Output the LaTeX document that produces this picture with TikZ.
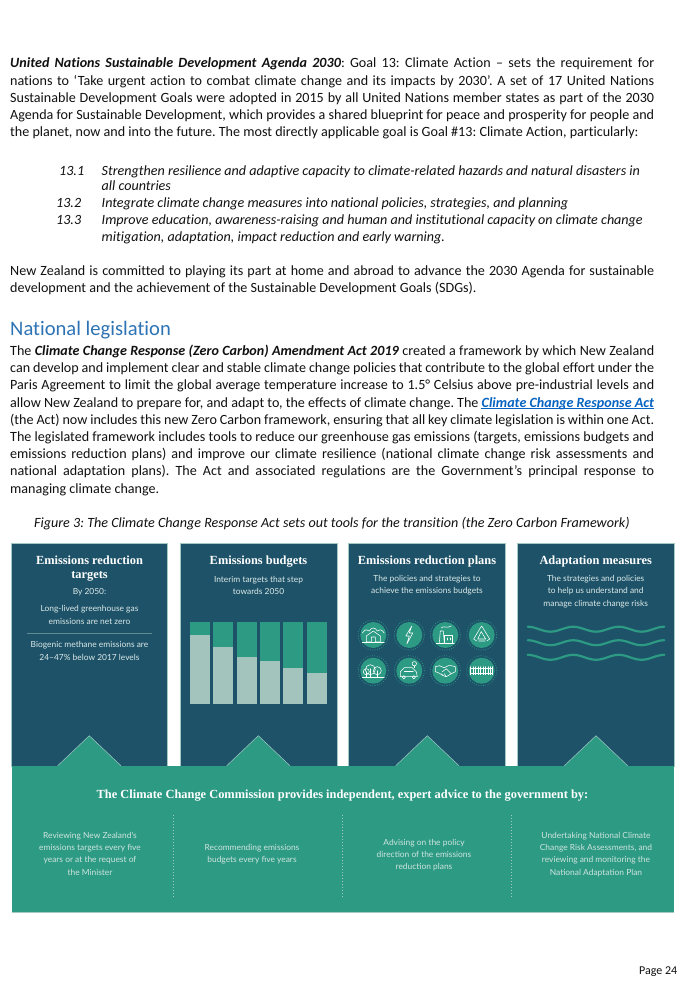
\documentclass[tikz,border=0pt]{standalone}
\usepackage{fontspec}
\setmainfont{Carlito}[Ligatures={TeX,NoCommon}]
\newfontfamily\panelsans{Lato}
\newfontfamily\panelserif{Liberation Serif}
\definecolor{panelblue}{HTML}{1D5268}
\definecolor{panelgreen}{HTML}{2D9A84}
\definecolor{edgelight}{HTML}{A2C9C4}
\definecolor{dimrule}{HTML}{5F8A94}
\definecolor{barlight}{HTML}{A2C4BD}
\definecolor{softtext}{HTML}{DCE9E8}
\definecolor{softgreen}{HTML}{CFE5DF}
\definecolor{headblue}{HTML}{2E74B5}
\definecolor{linkblue}{HTML}{0563C1}
\definecolor{bodytext}{HTML}{111111}
\tikzset{
  x=1pt,y=-1pt,
  bodyline/.style={anchor=base west,inner sep=0pt,text=bodytext,font=\fontsize{14.1}{17.2}\selectfont\frenchspacing},
  paneltitle/.style={inner sep=0pt,align=center,text=white,font=\panelserif\bfseries\fontsize{12.4}{14}\selectfont},
  paneltext/.style={inner sep=0pt,align=center,text=softtext,font=\panelsans\fontsize{8.4}{12.2}\selectfont},
  lowertext/.style={paneltext,text=softgreen},
  panelbox/.style={fill=panelblue,draw=edgelight,line width=0.5pt},
  iconline/.style={draw=white,line width=0.55pt,line join=round,line cap=round,fill=none},
  waveline/.style={draw=panelgreen,line width=2.2pt,line cap=round},
  divider/.style={draw=edgelight,line width=0.5pt,dash pattern=on 1pt off 2pt},
}
\newcommand{\jl}[3]{\node[bodyline] (#1) at (10,#2) {\hbox to 644pt{#3}};}
\newcommand{\pl}[4]{\node[bodyline] (#1) at (#2,#3) {#4};}
\newcommand{\iconbase}[2]{%
  \fill[panelgreen] (#1,#2) circle (13pt);
  \draw[panelgreen,line width=0.7pt,dash pattern=on 0.8pt off 1.6pt] (#1,#2) circle (15pt);}
\begin{document}
\begin{tikzpicture}
\useasboundingbox (0,0) rectangle (689,1004);
\fill[white] (0,0) rectangle (689,1004);
% ---------- top text
\jl{a1}{67.6}{\textbf{\textit{United Nations Sustainable Development Agenda 2030}}: Goal 13: Climate Action – sets the requirement for}
\jl{a2}{85}{nations to ‘Take urgent action to combat climate change and its impacts by 2030’. A set of 17 United Nations}
\jl{a3}{102.2}{Sustainable Development Goals were adopted in 2015 by all United Nations member states as part of the 2030}
\jl{a4}{119.4}{Agenda for Sustainable Development, which provides a shared blueprint for peace and prosperity for people and}
\pl{a5}{10}{136.6}{the planet, now and into the future. The most directly applicable goal is Goal \#13: Climate Action, particularly:}
\pl{n1}{59}{175}{\textit{13.1}}
\pl{b1}{101.5}{175}{\textit{Strengthen resilience and adaptive capacity to climate-related hazards and natural disasters in}}
\pl{b2}{101.5}{190}{\textit{all countries}}
\pl{n2}{56}{207}{\textit{13.2}}
\pl{b3}{101.5}{207}{\textit{Integrate climate change measures into national policies, strategies, and planning}}
\pl{n3}{56}{224.4}{\textit{13.3}}
\pl{b4}{101.5}{224.4}{\textit{Improve education, awareness-raising and human and institutional capacity on climate change}}
\pl{b5}{101.5}{241.6}{\textit{mitigation, adaptation, impact reduction and early warning.}}
\jl{c1}{275.6}{New Zealand is committed to playing its part at home and abroad to advance the 2030 Agenda for sustainable}
\pl{c2}{10}{292.8}{development and the achievement of the Sustainable Development Goals (SDGs).}
\node[anchor=base west,inner sep=0pt,text=headblue,font=\fontsize{20.6}{25}\selectfont] (head) at (10,335) {National legislation};
\jl{d1}{355.5}{The \textbf{\textit{Climate Change Response (Zero Carbon) Amendment Act 2019}} created a framework by which New Zealand}
\jl{d2}{372.7}{can develop and implement clear and stable climate change policies that contribute to the global effort under the}
\jl{d3}{389.9}{Paris Agreement to limit the global average temperature increase to 1.5° Celsius above pre-industrial levels and}
\jl{d4}{407.1}{allow New Zealand to prepare for, and adapt to, the effects of climate change. The \textcolor{linkblue}{\textbf{\textit{Climate Change Response Act}}}}
\jl{d5}{424.3}{(the Act) now includes this new Zero Carbon framework, ensuring that all key climate legislation is within one Act.}
\jl{d6}{441.5}{The legislated framework includes tools to reduce our greenhouse gas emissions (targets, emissions budgets and}
\jl{d7}{458.7}{emissions reduction plans) and improve our climate resilience (national climate change risk assessments and}
\jl{d8}{475.9}{national adaptation plans). The Act and associated regulations are the Government's principal response to}
\pl{d9}{10}{493.1}{managing climate change.}
\draw[linkblue,line width=0.7pt] (d4.base east) ++(-173,1.6) -- ++(173,0);
\node[bodyline] (cap) at (34,527) {\textit{Figure 3: The Climate Change Response Act sets out tools for the transition (the Zero Carbon Framework)}};
% ---------- panels
\path[panelbox] (11.5,543.5) rectangle (167.5,766);
\path[panelbox] (180,543.5) rectangle (337,766);
\path[panelbox] (348.5,543.5) rectangle (505.7,766);
\path[panelbox] (517.5,543.5) rectangle (674,766);
\fill[panelgreen] (11.5,765.7) rectangle (674,912);
\draw[edgelight,line width=0.4pt] (11.5,912) -- (674,912);
\foreach \a/\b/\c in {57.7/89.3/121,226.7/258.3/290,395.7/427.3/459,564.3/596/627.7}{
  \fill[panelgreen] (\a,765.9) -- (\b,735.7) -- (\c,765.9) -- cycle;
  \draw[edgelight,line width=0.5pt] (\a,765.7) -- (\b,735.7) -- (\c,765.7);
}
% panel 1
\node[paneltitle] (t1) at (89.5,569) {Emissions reduction\\targets};
\node[paneltext] (p1a) at (89.5,592.5) {By 2050:};
\node[paneltext] (p1b) at (89.5,615) {Long-lived greenhouse gas\\emissions are net zero};
\draw[dimrule,line width=0.4pt] (26.7,632.7) -- (151.7,632.7);
\node[paneltext] (p1c) at (89.5,651) {Biogenic methane emissions are\\24–47\% below 2017 levels};
% panel 2
\node[paneltitle] (t2) at (258.5,562) {Emissions budgets};
\node[paneltext] (p2) at (258.5,585.5) {Interim targets that step\\towards 2050};
\foreach \l/\r/\s in {189.7/210/635.3,213/233.3/646.7,236.7/256.7/656.7,260/280/661.3,283.3/303.3/667.7,306.7/326.7/673.3}{
  \fill[panelgreen] (\l,621.7) rectangle (\r,\s);
  \fill[barlight] (\l,\s) rectangle (\r,704.3);
}
% panel 3
\node[paneltitle] (t3) at (427,562) {Emissions reduction plans};
\node[paneltext] (p3) at (427,585.5) {The policies and strategies to\\achieve the emissions budgets};
\iconbase{373.3}{635}\iconbase{409.3}{635}\iconbase{445.3}{635}\iconbase{481.7}{635}
\iconbase{373.3}{670.7}\iconbase{409.3}{670.7}\iconbase{445.3}{670.7}\iconbase{481.7}{670.7}
% houses and hills
\begin{scope}[shift={(373.3,635)}]
  \draw[iconline] (-11,-2) .. controls (-8,-6) and (-6,-6) .. (-4,-4) .. controls (-2,-8) and (2,-8) .. (4,-4) .. controls (6,-6) and (8,-6) .. (11,-2);
  \draw[iconline] (-7,7) -- (-7,1) -- (0,-4) -- (7,1) -- (7,7) -- (2,7) -- (2,2) -- (-2,2) -- (-2,7) -- cycle;
  \draw[iconline] (-11,7) -- (11,7);
\end{scope}
% bolt
\begin{scope}[shift={(409.3,635)}]
  \draw[iconline] (2.5,-9) -- (-3.5,1) -- (0,1) -- (-2.5,9) -- (3.5,-2) -- (0,-2) -- cycle;
\end{scope}
% factory
\begin{scope}[shift={(445.3,635)}]
  \draw[iconline] (-9,8) -- (9,8);
  \draw[iconline] (-6,8) -- (-5,-4) -- (-2,-4) -- (-1,8);
  \draw[iconline] (-1,8) -- (-1,0) -- (7,0) -- (7,8);
  \draw[iconline] (-4,-7) .. controls (-2,-10) and (1,-6) .. (6,-9);
  \draw[iconline] (2,3) -- (2,5) (5,3) -- (5,5);
\end{scope}
% recycle
\begin{scope}[shift={(481.7,635)}]
  \draw[iconline] (-1.5,-7) -- (0,-9) -- (8,4) -- (5,6) (3.5,6) -- (-3,6) (-5,6) -- (-8,4) -- (-1.5,-7);
  \draw[iconline] (-0.5,-3.5) -- (4,4) -- (-4,4) -- cycle;
\end{scope}
% trees
\begin{scope}[shift={(373.3,670.7)}]
  \draw[iconline] (-11,6.5) -- (11,6.5);
  \draw[iconline] (-3,-1) circle (5pt) (4,0) circle (4pt) (-7,1) circle (3pt);
  \draw[iconline] (-3,6.5) -- (-3,-2) (4,6.5) -- (4,0) (-7,6.5) -- (-7,1);
\end{scope}
% car
\begin{scope}[shift={(409.3,670.7)}]
  \draw[iconline] (-9,6) -- (-9,1) -- (-5,-3) -- (3,-3) -- (7,1) -- (8,6) -- cycle;
  \draw[iconline] (-5,1) -- (4,1);
  \draw[iconline] (-5.5,6.5) circle (1.6pt) (4.5,6.5) circle (1.6pt);
  \draw[iconline] (5,-7) circle (2.2pt);
  \draw[iconline] (5,-4.8) -- (5,-3);
\end{scope}
% handshake
\begin{scope}[shift={(445.3,670.7)}]
  \draw[iconline] (-10,-4) -- (-6,-5) -- (-1,-3) -- (3,-5) -- (6,-5) -- (10,-4) -- (10,1) -- (6,3) -- (1,6) -- (-2,5) -- (-7,2) -- (-10,1) -- cycle;
  \draw[iconline] (-3,1) -- (1,-2) -- (6,3) (-2,5) -- (-4,3) (1,6) -- (-1,3);
\end{scope}
% fence
\begin{scope}[shift={(481.7,670.7)}]
  \draw[iconline,line width=0.7pt] (-11,-2.5) -- (11,-2.5) (-11,2.5) -- (11,2.5);
  \foreach \fx in {-11,-8.5,-6,-3.5,-1,1.5,4,6.5,9,11}{\draw[iconline] (\fx,-4) -- (\fx,4);}
\end{scope}
% panel 4
\node[paneltitle] (t4) at (595.7,562) {Adaptation measures};
\node[paneltext] (p4) at (595.7,591.5) {The strategies and policies\\to help us understand and\\manage climate change risks};
\foreach \wy in {629.2,642.7,657.3}{
  \draw[waveline] plot[smooth,domain=0:136.6,samples=37] ({527.7+\x},{\wy-2.5*cos(\x/45.53*360)});
}
% commission
\node[paneltitle] (comm) at (342.5,796) {The Climate Change Commission provides independent, expert advice to the government by:};
\draw[divider] (173.5,815) -- (173.5,898);
\draw[divider] (342.5,815) -- (342.5,898);
\draw[divider] (511,815) -- (511,898);
\node[lowertext] (q1) at (90,853.7) {Reviewing New Zealand's\\emissions targets every five\\years or at the request of\\the Minister};
\node[lowertext] (q2) at (252,854) {Recommending emissions\\budgets every five years};
\node[lowertext] (q3) at (424,855) {Advising on the policy\\direction of the emissions\\reduction plans};
\node[lowertext] (q4) at (596,854.5) {Undertaking National Climate\\Change Risk Assessments, and\\reviewing and monitoring the\\National Adaptation Plan};
\node[anchor=base west,inner sep=0pt,text=bodytext,font=\fontsize{12}{14}\selectfont] (pg) at (639,974.5) {Page 24};
\end{tikzpicture}
\end{document}
